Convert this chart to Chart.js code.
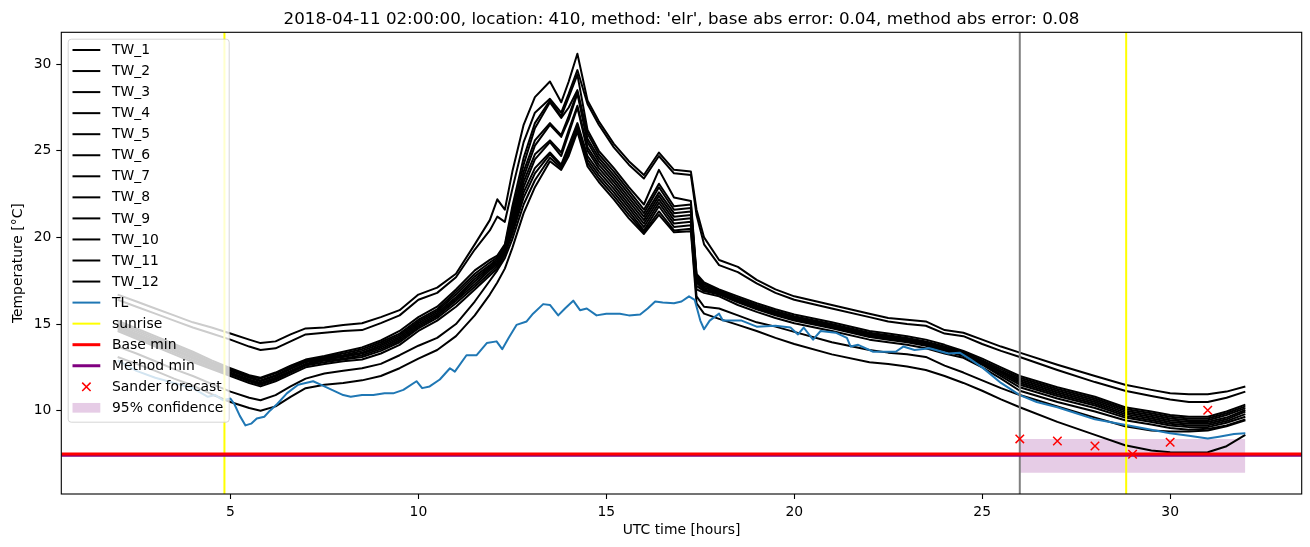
<!DOCTYPE html>
<html>
<head>
<meta charset="utf-8">
<script src="https://cdn.jsdelivr.net/npm/chart.js@4/dist/chart.umd.min.js"></script>
<style>
html,body{margin:0;padding:0;background:#fff;overflow:hidden}
#wrap{width:1310px;height:547px;position:relative}
</style>
</head>
<body>
<div id="wrap"><canvas id="c" width="1310" height="547"></canvas></div>
<script>
// ---------------- data ----------------
const TITLE = "2018-04-11 02:00:00, location: 410, method: 'elr', base abs error: 0.04, method abs error: 0.08";
const X_LABEL = "UTC time [hours]";
const Y_LABEL = "Temperature [°C]";

const HOURS = [2, 2.5, 3, 3.5, 4, 4.5, 5, 5.5, 5.8, 6.2,
  6.6, 7, 7.5, 8, 8.5, 9, 9.5, 10, 10.5, 11,
  11.5, 11.9, 12.1, 12.3, 12.5, 12.8, 13.1, 13.5, 13.8, 14.0,
  14.23, 14.5, 14.8, 15.2, 15.6, 16.0, 16.4, 16.8, 17.25, 17.4,
  17.6, 18, 18.5, 19, 19.5, 20, 21, 22, 22.5, 23,
  23.5, 24, 24.5, 25, 25.5, 26, 27, 28, 28.8, 29.5,
  30, 30.5, 31, 31.5, 32];

const TW_1 = [16.7, 16.3, 15.9, 15.5, 15.1, 14.8, 14.45, 14.1, 13.9, 14.0,
  14.4, 14.75, 14.8, 14.95, 15.05, 15.4, 15.8, 16.7, 17.1, 17.9,
  19.6, 21.0, 22.2, 21.6, 23.8, 26.5, 28.1, 29.0, 27.8, 29.0,
  30.6, 27.9, 26.7, 25.4, 24.4, 23.6, 24.9, 23.9, 23.8, 21.6,
  20.0, 18.7, 18.3, 17.55, 17.0, 16.6, 16.1, 15.6, 15.35, 15.25,
  15.15, 14.65, 14.5, 14.1, 13.7, 13.35, 12.65, 12.0, 11.5, 11.2,
  11.0, 10.95, 10.95, 11.1, 11.4];
const TW_2 = [16.4, 16.0, 15.6, 15.2, 14.8, 14.45, 14.1, 13.7, 13.5, 13.6,
  14.0, 14.4, 14.5, 14.6, 14.65, 15.05, 15.5, 16.4, 16.8, 17.7,
  19.3, 20.4, 21.2, 20.9, 22.8, 25.5, 27.2, 28.0, 27.2, 28.3,
  29.66, 27.7, 26.5, 25.2, 24.2, 23.4, 24.7, 23.7, 23.6, 21.3,
  19.6, 18.4, 18.0, 17.35, 16.8, 16.4, 15.9, 15.4, 15.15, 15.0,
  14.9, 14.45, 14.3, 13.85, 13.45, 13.1, 12.35, 11.65, 11.15, 10.85,
  10.65, 10.5, 10.5, 10.75, 11.1];
const TW_3 = [15.2, 14.75, 14.3, 13.85, 13.4, 12.9, 12.45, 12.05, 11.9, 12.2,
  12.6, 12.95, 13.15, 13.4, 13.65, 14.05, 14.6, 15.4, 16.0, 17.0,
  18.1, 18.7, 18.95, 19.6, 21.8, 24.6, 26.6, 27.9, 27.0, 28.1,
  29.4, 26.2, 25.0, 24.0, 22.9, 21.9, 23.9, 22.3, 22.1, 17.9,
  17.4, 17.0, 16.6, 16.2, 15.85, 15.55, 15.1, 14.6, 14.45, 14.3,
  14.1, 13.8, 13.45, 13.0, 12.5, 12.0, 11.35, 10.8, 10.2, 9.95,
  9.75, 9.65, 9.65, 9.95, 10.35];
const TW_4 = [15.1, 14.65, 14.2, 13.75, 13.3, 12.8, 12.4, 12.0, 11.85, 12.15,
  12.55, 12.9, 13.1, 13.3, 13.55, 13.95, 14.45, 15.25, 15.85, 16.85,
  17.9, 18.55, 18.85, 19.5, 21.5, 24.2, 26.3, 27.8, 26.9, 27.5,
  28.5, 26.0, 24.8, 23.8, 22.7, 21.6, 23.1, 21.8, 21.9, 17.8,
  17.3, 16.95, 16.5, 16.1, 15.75, 15.45, 15.0, 14.5, 14.35, 14.2,
  14.0, 13.7, 13.4, 12.9, 12.4, 11.9, 11.25, 10.7, 10.1, 9.85,
  9.65, 9.55, 9.55, 9.85, 10.25];
const TW_5 = [15.0, 14.55, 14.1, 13.65, 13.2, 12.75, 12.35, 11.95, 11.75, 12.05,
  12.45, 12.85, 13.05, 13.2, 13.45, 13.85, 14.35, 15.15, 15.75, 16.7,
  17.75, 18.4, 18.75, 19.4, 21.2, 23.8, 25.6, 26.6, 25.9, 27.0,
  28.4, 25.7, 24.6, 23.6, 22.5, 21.4, 22.9, 21.6, 21.7, 17.7,
  17.2, 16.9, 16.45, 16.05, 15.7, 15.4, 14.95, 14.45, 14.3, 14.15,
  13.95, 13.65, 13.35, 12.85, 12.3, 11.8, 11.15, 10.6, 10.0, 9.75,
  9.55, 9.45, 9.45, 9.75, 10.15];
const TW_6 = [14.9, 14.45, 14.0, 13.55, 13.1, 12.65, 12.3, 11.9, 11.7, 12.0,
  12.4, 12.8, 13.0, 13.15, 13.35, 13.75, 14.25, 15.05, 15.65, 16.55,
  17.6, 18.3, 18.65, 19.3, 21.0, 23.5, 25.3, 26.5, 25.8, 26.8,
  28.3, 25.5, 24.4, 23.4, 22.3, 21.2, 22.6, 21.4, 21.5, 17.6,
  17.1, 16.85, 16.4, 16.0, 15.65, 15.35, 14.9, 14.4, 14.25, 14.1,
  13.9, 13.6, 13.3, 12.8, 12.25, 11.7, 11.05, 10.5, 9.9, 9.65,
  9.45, 9.35, 9.35, 9.6, 10.05];
const TW_7 = [14.85, 14.4, 13.95, 13.5, 13.05, 12.6, 12.2, 11.8, 11.6, 11.9,
  12.3, 12.7, 12.95, 13.1, 13.3, 13.65, 14.15, 14.95, 15.55, 16.45,
  17.45, 18.2, 18.55, 19.25, 20.8, 23.2, 24.8, 25.6, 24.9, 26.2,
  27.6, 25.2, 24.2, 23.2, 22.1, 21.0, 22.4, 21.2, 21.3, 17.5,
  17.0, 16.8, 16.35, 15.95, 15.6, 15.3, 14.85, 14.35, 14.2, 14.05,
  13.85, 13.55, 13.25, 12.75, 12.2, 11.6, 10.95, 10.4, 9.8, 9.55,
  9.35, 9.25, 9.25, 9.5, 9.95];
const TW_8 = [14.8, 14.35, 13.9, 13.45, 13.0, 12.55, 12.15, 11.75, 11.55, 11.85,
  12.25, 12.65, 12.9, 13.0, 13.2, 13.55, 14.05, 14.85, 15.45, 16.35,
  17.3, 18.1, 18.45, 19.2, 20.6, 22.9, 24.5, 25.5, 24.7, 26.0,
  27.5, 25.0, 24.0, 23.0, 21.9, 20.8, 22.2, 21.0, 21.1, 17.4,
  16.95, 16.75, 16.3, 15.9, 15.55, 15.25, 14.8, 14.3, 14.15, 14.0,
  13.8, 13.5, 13.2, 12.7, 12.1, 11.5, 10.85, 10.3, 9.7, 9.45,
  9.25, 9.15, 9.15, 9.4, 9.8];
const TW_9 = [14.7, 14.25, 13.8, 13.35, 12.9, 12.45, 12.1, 11.7, 11.5, 11.8,
  12.2, 12.6, 12.8, 12.95, 13.1, 13.45, 13.95, 14.75, 15.35, 16.2,
  17.15, 17.95, 18.35, 19.1, 20.4, 22.6, 24.0, 24.9, 24.2, 25.3,
  26.6, 24.7, 23.8, 22.8, 21.7, 20.6, 22.0, 20.8, 20.9, 17.2,
  16.9, 16.7, 16.25, 15.85, 15.5, 15.2, 14.75, 14.25, 14.1, 13.95,
  13.75, 13.45, 13.15, 12.65, 12.0, 11.35, 10.7, 10.15, 9.6, 9.35,
  9.15, 9.05, 9.05, 9.3, 9.65];
const TW_10 = [14.6, 14.15, 13.7, 13.25, 12.8, 12.4, 12.0, 11.6, 11.4, 11.7,
  12.1, 12.5, 12.7, 12.85, 12.95, 13.3, 13.8, 14.6, 15.2, 16.0,
  17.0, 17.8, 18.2, 19.0, 20.2, 22.3, 23.7, 24.8, 24.1, 25.1,
  26.5, 24.5, 23.6, 22.6, 21.5, 20.4, 21.8, 20.6, 20.7, 17.0,
  16.8, 16.6, 16.1, 15.7, 15.35, 15.05, 14.6, 14.1, 13.95, 13.8,
  13.6, 13.3, 13.05, 12.5, 11.85, 11.15, 10.5, 9.95, 9.45, 9.2,
  9.0, 8.9, 8.95, 9.15, 9.5];
const TW_11 = [13.7, 13.3, 12.85, 12.4, 12.0, 11.55, 11.1, 10.75, 10.6, 10.9,
  11.4, 11.85, 12.15, 12.3, 12.45, 12.7, 13.2, 13.75, 14.2, 15.0,
  16.3, 17.5, 18.1, 18.8, 19.9, 21.9, 23.3, 24.6, 24.0, 24.9,
  26.3, 24.3, 23.4, 22.4, 21.3, 20.3, 21.5, 20.4, 20.5, 16.6,
  16.0, 15.9, 15.5, 15.1, 14.85, 14.55, 13.95, 13.5, 13.35, 13.25,
  13.1, 12.6, 12.2, 11.75, 11.3, 10.9, 10.25, 9.6, 9.1, 8.85,
  8.8, 8.8, 8.85, 9.1, 9.45];
const TW_12 = [13.1, 12.7, 12.3, 11.85, 11.45, 10.95, 10.5, 10.15, 10.0, 10.25,
  10.8, 11.3, 11.5, 11.6, 11.75, 12.0, 12.45, 13.0, 13.5, 14.3,
  15.5, 16.7, 17.4, 18.2, 19.4, 21.4, 22.9, 24.4, 23.9, 24.7,
  26.1, 24.1, 23.2, 22.2, 21.1, 20.2, 21.3, 20.3, 20.35, 16.2,
  15.6, 15.3, 14.95, 14.6, 14.2, 13.85, 13.25, 12.8, 12.7, 12.55,
  12.35, 12.0, 11.6, 11.15, 10.65, 10.2, 9.35, 8.6, 8.0, 7.7,
  7.6, 7.58, 7.6, 7.95, 8.6];

const TL_HOURS = [2.0, 2.5, 3.0, 3.5, 4.0, 4.4, 4.6, 4.8, 5.0, 5.1,
  5.25, 5.4, 5.55, 5.7, 5.9, 6.05, 6.25, 6.5, 6.8, 7.2,
  7.4, 7.7, 8.0, 8.2, 8.5, 8.8, 9.1, 9.33, 9.6, 9.95,
  10.1, 10.3, 10.57, 10.84, 10.97, 11.28, 11.55, 11.82, 12.08, 12.23,
  12.4, 12.61, 12.88, 13.05, 13.32, 13.5, 13.72, 13.9, 14.12, 14.3,
  14.48, 14.74, 15.0, 15.36, 15.6, 15.9, 16.1, 16.3, 16.5, 16.8,
  17.0, 17.2, 17.35, 17.5, 17.6, 17.75, 18.0, 18.1, 18.6, 19.0,
  19.5, 19.9, 20.1, 20.25, 20.5, 20.7, 21.1, 21.4, 21.5, 21.7,
  22.1, 22.7, 22.9, 23.2, 23.6, 24.1, 24.4, 24.7, 25.0, 25.5,
  26.0, 26.45, 27.0, 27.5, 28.0, 28.5, 29.0, 29.5, 30.0, 30.5,
  31.0, 31.3, 31.7, 32.0];
const TL = [12.9, 12.3, 11.9, 11.6, 11.3, 10.8, 10.9, 10.6, 10.7, 10.4,
  9.7, 9.15, 9.25, 9.55, 9.65, 10.0, 10.4, 11.0, 11.5, 11.7,
  11.5, 11.2, 10.9, 10.8, 10.9, 10.9, 11.0, 11.0, 11.2, 11.7,
  11.3, 11.4, 11.8, 12.45, 12.25, 13.2, 13.2, 13.9, 14.0, 13.55,
  14.2, 14.95, 15.15, 15.6, 16.15, 16.1, 15.5, 15.9, 16.35, 15.8,
  15.9, 15.5, 15.6, 15.6, 15.5, 15.55, 15.9, 16.3, 16.25, 16.2,
  16.3, 16.6, 16.4, 15.2, 14.7, 15.2, 15.6, 15.2, 15.2, 14.85,
  14.9, 14.8, 14.4, 14.8, 14.1, 14.6, 14.5, 14.2, 13.7, 13.8,
  13.4, 13.4, 13.7, 13.5, 13.6, 13.3, 13.35, 12.95, 12.5, 11.6,
  10.9, 10.5, 10.2, 9.85, 9.5, 9.3, 9.1, 8.9, 8.7, 8.55,
  8.4, 8.5, 8.65, 8.7];

const SUNRISE_HOURS = [4.84, 28.83];
const NOW_HOUR = 26.0;
const BASE_MIN = 7.5;
const METHOD_MIN = 7.42;
const FORECAST_HOURS = [26, 27, 28, 29, 30, 31];
const FORECAST = [8.37, 8.25, 7.96, 7.48, 8.18, 10.02];
const CONF_HOURS = [26, 32];
const CONF_LOW = 6.42;
const CONF_HIGH = 8.37;

const X_TICKS = [5, 10, 15, 20, 25, 30];
const Y_TICKS = [10, 15, 20, 25, 30];
const X_LIMITS = [0.5, 33.5];
const Y_LIMITS = [5.19, 31.84];

// ---------------- chart ----------------
const FONT = "'DejaVu Sans', 'Liberation Sans', sans-serif";
Chart.defaults.font.family = FONT;
Chart.defaults.color = '#000';

const pts = (xs, ys) => xs.map((x, i) => ({x: x, y: ys[i]}));
const TW_SERIES = [TW_1, TW_2, TW_3, TW_4, TW_5, TW_6, TW_7, TW_8, TW_9, TW_10, TW_11, TW_12];

const datasets = [];
TW_SERIES.forEach((s, i) => {
  datasets.push({label: 'TW_' + (i + 1), legendType: 'line', data: pts(HOURS, s),
    borderColor: '#000000', borderWidth: 2, pointRadius: 0, tension: 0,
    borderJoinStyle: 'round', fill: false, order: 50});
});
datasets.push({label: 'TL', legendType: 'line', data: pts(TL_HOURS, TL),
  borderColor: '#1f77b4', borderWidth: 2, pointRadius: 0, tension: 0,
  borderJoinStyle: 'round', fill: false, order: 40});
SUNRISE_HOURS.forEach((h, i) => {
  datasets.push({label: i === 0 ? 'sunrise' : '', legendType: 'line',
    data: [{x: h, y: Y_LIMITS[0]}, {x: h, y: Y_LIMITS[1]}],
    borderColor: '#ffff00', borderWidth: 2, pointRadius: 0, fill: false, order: 30});
});
datasets.push({label: '', data: [{x: NOW_HOUR, y: Y_LIMITS[0]}, {x: NOW_HOUR, y: Y_LIMITS[1]}],
  borderColor: '#808080', borderWidth: 2, pointRadius: 0, fill: false, order: 30});
datasets.push({label: 'Base min', legendType: 'line',
  data: [{x: X_LIMITS[0], y: BASE_MIN}, {x: X_LIMITS[1], y: BASE_MIN}],
  borderColor: '#ff0000', borderWidth: 3, pointRadius: 0, fill: false, order: 20});
datasets.push({label: 'Method min', legendType: 'line',
  data: [{x: X_LIMITS[0], y: METHOD_MIN}, {x: X_LIMITS[1], y: METHOD_MIN}],
  borderColor: '#800080', borderWidth: 3, pointRadius: 0, fill: false, order: 21});
datasets.push({label: 'Sander forecast', legendType: 'marker', data: pts(FORECAST_HOURS, FORECAST),
  showLine: false, pointStyle: 'crossRot', pointRadius: 6, pointBorderColor: '#ff0000',
  borderColor: '#ff0000', pointBorderWidth: 1.5, order: 10});
datasets.push({label: '95% confidence', legendType: 'patch',
  data: CONF_HOURS.map(h => ({x: h, y: CONF_HIGH})),
  borderWidth: 0, borderColor: 'rgba(0,0,0,0)', pointRadius: 0,
  fill: {value: CONF_LOW}, backgroundColor: 'rgba(128,0,128,0.2)', order: 100});

// axes frame (all four spines) drawn above the data
const framePlugin = {
  id: 'frame',
  afterDatasetsDraw(chart) {
    const a = chart.chartArea, ctx = chart.ctx;
    ctx.save();
    ctx.strokeStyle = '#000';
    ctx.lineWidth = 1.1;
    ctx.strokeRect(a.left, a.top, a.right - a.left, a.bottom - a.top);
    ctx.restore();
  }
};

// title centred over the plotting area, as matplotlib does
const titlePlugin = {
  id: 'axTitle',
  afterDraw(chart) {
    const a = chart.chartArea, ctx = chart.ctx;
    ctx.save();
    ctx.fillStyle = '#000';
    ctx.font = '16.7px ' + FONT;
    ctx.textAlign = 'center';
    ctx.textBaseline = 'alphabetic';
    ctx.fillText(TITLE, (a.left + a.right) / 2, a.top - 8.3);
    ctx.restore();
  }
};

const legendPlugin = {
  id: 'mplLegend',
  afterDraw(chart) {
    const ctx = chart.ctx, a = chart.chartArea;
    const items = chart.data.datasets.filter(d => d.label);
    const x0 = a.left + 6.9, y0 = a.top + 6.9, w = 161, h = 383;
    const rowH = 21.05, first = 10.8;
    ctx.save();
    ctx.beginPath();
    if (ctx.roundRect) ctx.roundRect(x0, y0, w, h, 3); else ctx.rect(x0, y0, w, h);
    ctx.fillStyle = 'rgba(255,255,255,0.8)';
    ctx.fill();
    ctx.strokeStyle = 'rgba(204,204,204,0.8)';
    ctx.lineWidth = 1;
    ctx.stroke();
    const hx0 = x0 + 4.3, hx1 = hx0 + 27.8, hxc = (hx0 + hx1) / 2;
    items.forEach((d, i) => {
      const cy = y0 + first + i * rowH;
      if (d.legendType === 'line') {
        ctx.beginPath();
        ctx.moveTo(hx0, cy); ctx.lineTo(hx1, cy);
        ctx.strokeStyle = d.borderColor; ctx.lineWidth = d.borderWidth;
        ctx.lineCap = 'butt';
        ctx.stroke();
      } else if (d.legendType === 'marker') {
        const r = 4.2;
        ctx.beginPath();
        ctx.moveTo(hxc - r, cy - r); ctx.lineTo(hxc + r, cy + r);
        ctx.moveTo(hxc - r, cy + r); ctx.lineTo(hxc + r, cy - r);
        ctx.strokeStyle = d.pointBorderColor; ctx.lineWidth = 1.5;
        ctx.stroke();
      } else if (d.legendType === 'patch') {
        ctx.fillStyle = d.backgroundColor;
        ctx.fillRect(hx0, cy - 4.9, hx1 - hx0, 9.7);
      }
      ctx.fillStyle = '#000';
      ctx.font = '13.9px ' + FONT;
      ctx.textBaseline = 'middle';
      ctx.textAlign = 'left';
      ctx.fillText(d.label, x0 + 43.8, cy + 0.5);
    });
    ctx.restore();
  }
};

const tickGrid = {drawOnChartArea: false, drawTicks: true, tickLength: 5, tickColor: '#000', tickWidth: 1.1, color: '#000'};

new Chart(document.getElementById('c'), {
  type: 'line',
  data: {datasets: datasets},
  options: {
    responsive: false,
    animation: false,
    devicePixelRatio: 1,
    layout: {padding: {left: 0, right: 8.3, top: 32.3, bottom: 0}},
    plugins: {
      legend: {display: false},
      tooltip: {enabled: false},
      title: {display: false}
    },
    scales: {
      x: {
        type: 'linear', min: X_LIMITS[0], max: X_LIMITS[1],
        afterBuildTicks: s => { s.ticks = X_TICKS.map(v => ({value: v})); },
        afterFit: s => { s.height = 53; },
        grid: tickGrid,
        border: {display: false},
        ticks: {color: '#000', font: {size: 13.9}, padding: 4.9, maxRotation: 0, autoSkip: false},
        title: {display: true, text: X_LABEL, color: '#000', font: {size: 13.9}, padding: {top: 0, bottom: 8.7}}
      },
      y: {
        type: 'linear', min: Y_LIMITS[0], max: Y_LIMITS[1],
        afterBuildTicks: s => { s.ticks = Y_TICKS.map(v => ({value: v})); },
        afterFit: s => { s.width = 61.3; },
        grid: tickGrid,
        border: {display: false},
        ticks: {color: '#000', font: {size: 13.9}, padding: 4.9, autoSkip: false},
        title: {display: true, text: Y_LABEL, color: '#000', font: {size: 13.9}, padding: {top: 10, bottom: 0}}
      }
    }
  },
  plugins: [framePlugin, legendPlugin, titlePlugin]
});
</script>
</body>
</html>
